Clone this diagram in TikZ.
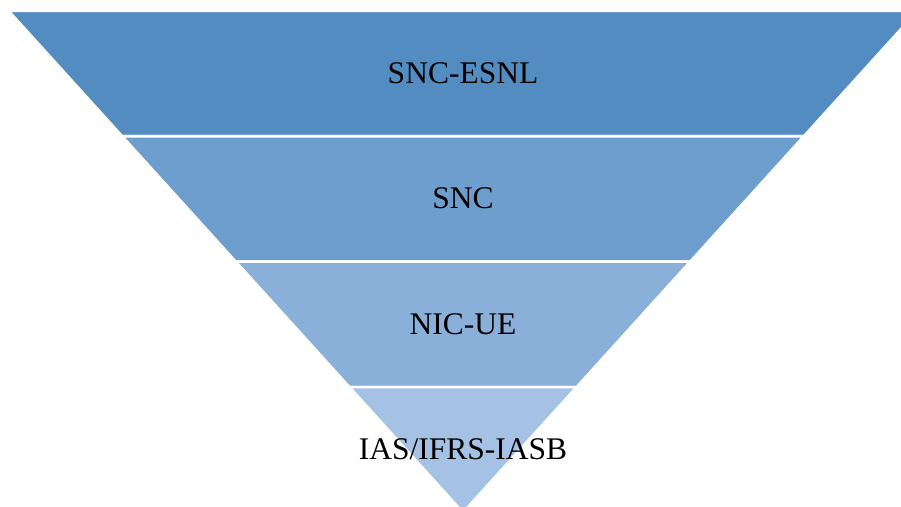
\documentclass[tikz,border=0pt]{standalone}
\usepackage{fontspec}
\setmainfont{Liberation Serif}
\usetikzlibrary{calc}
\definecolor{tierA}{RGB}{82,140,193}
\definecolor{tierB}{RGB}{110,158,205}
\definecolor{tierC}{RGB}{138,175,216}
\definecolor{tierD}{RGB}{165,194,229}
\tikzset{
  tier/.style={draw=white,line width=2.6pt,line join=miter},
  tiertext/.style={font=\fontsize{31.5}{36}\selectfont,anchor=base,inner sep=0pt}
}
\begin{document}
\begin{tikzpicture}[x=1pt,y=-1pt]
			\clip (0,0) rectangle (901,506);
			\coordinate (L) at (8.5,10.8);
			\coordinate (R) at (917.5,10.8);
			\coordinate (A) at (463,512.5);
			%			Các tầng
			\filldraw[tier,fill=tierA] (L) -- (R) -- ($(R)!0.25!(A)$) -- ($(L)!0.25!(A)$) -- cycle;
			\filldraw[tier,fill=tierB] ($(L)!0.25!(A)$) -- ($(R)!0.25!(A)$) -- ($(R)!0.5!(A)$) -- ($(L)!0.5!(A)$) -- cycle;
			\filldraw[tier,fill=tierC] ($(L)!0.5!(A)$) -- ($(R)!0.5!(A)$) -- ($(R)!0.75!(A)$) -- ($(L)!0.75!(A)$) -- cycle;
			\filldraw[tier,fill=tierD] ($(L)!0.75!(A)$) -- ($(R)!0.75!(A)$) -- (A) -- cycle;
			%			Nhãn
			\node[tiertext] (esnl) at (463,83.3) {SNC-ESNL};
			\node[tiertext] (snc) at (463,208.7) {SNC};
			\node[tiertext] (nicue) at (463,334.1) {NIC-UE};
			\node[tiertext] (ias) at (463,459.5) {IAS/IFRS-IASB};
		\end{tikzpicture}
\end{document}
